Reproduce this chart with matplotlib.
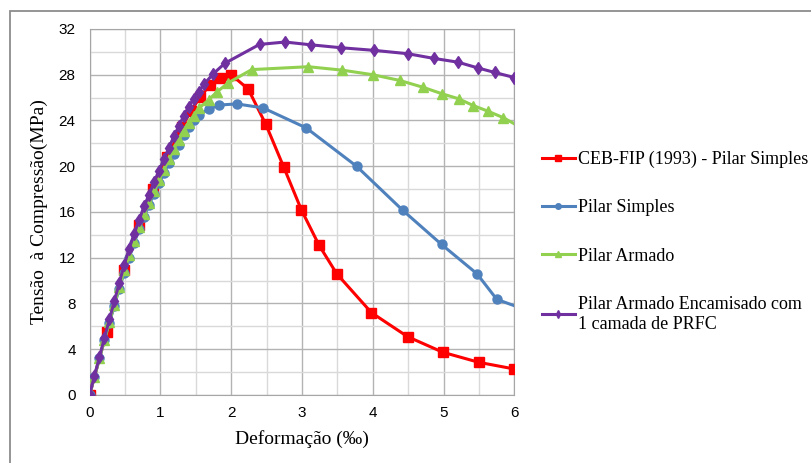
import matplotlib
matplotlib.use("Agg")
import matplotlib.pyplot as plt
from matplotlib.lines import Line2D
from matplotlib.patches import Rectangle

# valores (deformacao em permil, tensao em MPa)
ceb_x = [0.00, 0.24, 0.48, 0.70, 0.90, 1.10, 1.30, 1.43, 1.56, 1.70, 1.84, 2.00,
         2.24, 2.49, 2.74, 2.99, 3.24, 3.49, 3.98, 4.49, 4.99, 5.50, 6.00]
ceb_y = [0.0, 5.5, 10.9, 14.9, 18.0, 20.8, 23.4, 24.8, 26.05, 27.1, 27.75, 28.0,
         26.75, 23.65, 19.95, 16.2, 13.1, 10.6, 7.2, 5.1, 3.73, 2.85, 2.27]

simples_x = [0.00, 0.07, 0.14, 0.21, 0.28, 0.35, 0.42, 0.49, 0.56, 0.63, 0.70, 0.77, 0.84, 0.91,
             0.98, 1.05, 1.12, 1.19, 1.26, 1.33, 1.40, 1.47, 1.54, 1.68, 1.83, 2.08, 2.45, 3.06,
             3.77, 4.42, 4.97, 5.47, 5.75, 6.00]
simples_y = [0.0, 1.6, 3.2, 4.8, 6.3, 7.8, 9.3, 10.7, 12.0, 13.3, 14.5, 15.6, 16.6, 17.6,
             18.5, 19.4, 20.3, 21.1, 21.9, 22.7, 23.4, 24.0, 24.45, 25.0, 25.35, 25.45, 25.1, 23.35,
             20.0, 16.16, 13.16, 10.6, 8.36, 7.8]

armado_x = [0.00, 0.07, 0.14, 0.21, 0.28, 0.35, 0.42, 0.49, 0.56, 0.63, 0.70, 0.77, 0.84, 0.91,
            0.98, 1.05, 1.12, 1.19, 1.26, 1.33, 1.40, 1.47, 1.55, 1.68, 1.80, 1.96, 2.29, 3.09,
            3.57, 4.00, 4.38, 4.71, 4.97, 5.21, 5.42, 5.63, 5.84, 6.00]
armado_y = [0.0, 1.6, 3.2, 4.8, 6.4, 7.9, 9.4, 10.9, 12.2, 13.5, 14.7, 15.8, 16.8, 17.8,
            18.8, 19.7, 20.6, 21.5, 22.3, 23.1, 23.8, 24.4, 25.1, 25.8, 26.5, 27.3, 28.45, 28.7,
            28.4, 28.0, 27.5, 26.9, 26.35, 25.9, 25.3, 24.8, 24.25, 23.7]

prfc_x = [0.00, 0.07, 0.14, 0.21, 0.28, 0.35, 0.42, 0.49, 0.56, 0.63, 0.70, 0.77, 0.84, 0.91,
          0.98, 1.05, 1.12, 1.19, 1.26, 1.33, 1.40, 1.47, 1.54, 1.62, 1.75, 1.91, 2.40, 2.76,
          3.12, 3.55, 4.02, 4.49, 4.86, 5.20, 5.48, 5.72, 6.00]
prfc_y = [0.0, 1.7, 3.3, 5.0, 6.6, 8.2, 9.8, 11.4, 12.8, 14.1, 15.3, 16.5, 17.5, 18.6,
          19.6, 20.6, 21.6, 22.6, 23.5, 24.4, 25.2, 25.9, 26.5, 27.2, 28.1, 29.0, 30.65, 30.86,
          30.62, 30.36, 30.13, 29.84, 29.43, 29.1, 28.6, 28.2, 27.75]

labels = ["CEB-FIP (1993) - Pilar Simples", "Pilar Simples", "Pilar Armado",
          "Pilar Armado Encamisado com\n1 camada de PRFC"]

fig = plt.figure(figsize=(8.11, 4.63), dpi=100)
ax = fig.add_axes([0.1104, 0.1469, 0.5240, 0.7905])

# moldura externa do grafico
fig.add_artist(Rectangle((10 / 811, -0.1), 1.2, (463 - 11) / 463 + 0.1, transform=fig.transFigure,
                         fill=False, edgecolor="#8c8c8c", linewidth=1.3))

lw = 2.2
# ordem do Excel: primeira serie embaixo
ax.plot(ceb_x, ceb_y, color="#ff0000", lw=lw, marker="s", ms=6.5, zorder=3)
ax.plot(simples_x, simples_y, color="#4f81bd", lw=lw, marker="o", ms=6.5, zorder=4,
        markevery=list(range(len(simples_x) - 1)))
ax.plot(armado_x, armado_y, color="#92d050", lw=lw, marker="^", ms=6.5, zorder=5,
        markevery=list(range(len(armado_x) - 1)))
ax.plot(prfc_x, prfc_y, color="#7030a0", lw=lw, marker="d", ms=6.5, zorder=6)

ax.set_xlim(0, 6)
ax.set_ylim(0, 32)
ax.set_xticks(range(0, 7))
ax.set_yticks(range(0, 33, 4))
ax.set_xticks([i + 0.5 for i in range(6)], minor=True)
ax.set_yticks(range(2, 32, 4), minor=True)
ax.grid(which="major", color="#b3b3b3", lw=1.0)
ax.grid(which="minor", color="#d9d9d9", lw=1.0)
ax.set_axisbelow(True)
for s in ax.spines.values():
    s.set_color("#a6a6a6")
ax.tick_params(which="both", length=0)
ax.tick_params(axis="y", pad=10, labelsize=11)
ax.tick_params(axis="x", pad=8, labelsize=11)
for t in ax.get_xticklabels() + ax.get_yticklabels():
    t.set_family(["Liberation Sans", "DejaVu Sans"])

serif = ["Liberation Serif", "DejaVu Serif"]
ax.set_xlabel("Deformação (‰)", family=serif, fontsize=14, labelpad=7)
ax.set_ylabel("Tensão  à Compressão(MPa)", family=serif, fontsize=14, labelpad=8)

handles = [
    Line2D([], [], color="#ff0000", lw=lw, marker="s", ms=5),
    Line2D([], [], color="#4f81bd", lw=lw, marker="o", ms=4),
    Line2D([], [], color="#92d050", lw=lw, marker="^", ms=4),
    Line2D([], [], color="#7030a0", lw=lw, marker="d", ms=4),
]
fig.legend(handles, labels, loc="upper left", bbox_to_anchor=(0.668, 0.674), frameon=False,
           prop={"family": serif, "size": 13}, handlelength=1.83, handletextpad=0.17,
           labelspacing=1.73, borderpad=0, borderaxespad=0)

fig.savefig("out.png", dpi=100)
